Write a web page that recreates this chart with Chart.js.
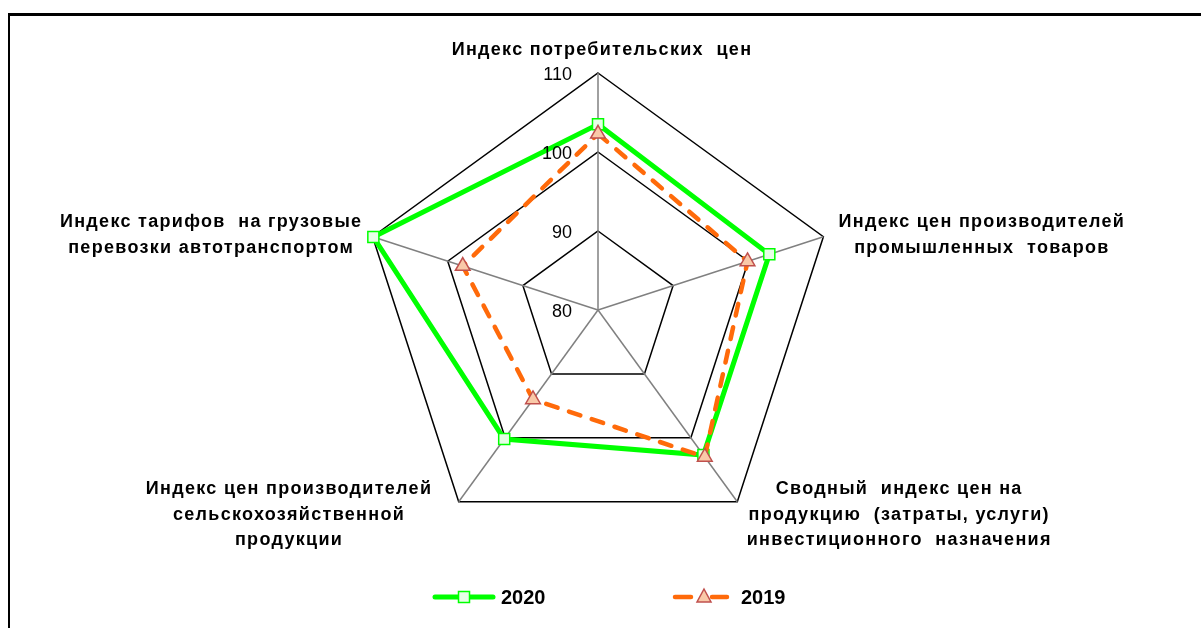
<!DOCTYPE html>
<html>
<head>
<meta charset="utf-8">
<script src="https://cdn.jsdelivr.net/npm/chart.js@4.4.1/dist/chart.umd.min.js"></script>
<style>
    html, body { margin: 0; padding: 0; background: #fff; }
    #wrap { position: relative; width: 1201px; height: 628px; overflow: hidden; }
    #frame { position: absolute; left: 8px; top: 13px; right: -5px; bottom: -5px; border-top: 3px solid #000; border-left: 2px solid #000; }
    canvas { position: absolute; left: 0; top: 0; }
</style>
</head>
<body>
<div id="wrap">
    <div id="frame"></div>
    <canvas id="radar" width="1201" height="628"></canvas>
</div>
<script>
const categories = [
    ["Индекс потребительских  цен"],
    ["Индекс цен производителей", "промышленных  товаров"],
    ["Сводный  индекс цен на", "продукцию  (затраты, услуги)", "инвестиционного  назначения"],
    ["Индекс цен производителей", "сельскохозяйственной", "продукции"],
    ["Индекс тарифов  на грузовые", "перевозки автотранспортом"]
];
const values2020 = [103.5, 102.8, 102.7, 100.2, 109.9];
const values2019 = [102.3, 99.9, 103.0, 94.0, 98.0];
const tickValues = [80, 90, 100, 110];
const seriesNames = ["2020", "2019"];

const FONT = '"Liberation Sans", Arial, sans-serif';
const GREEN = '#00FF00', ORANGE = '#FF6A0A';

// labels, ticks and legend drawn by hand (Excel-like placement)
const extras = {
    id: 'extras',
    afterDraw(chart) {
        const ctx = chart.ctx, r = chart.scales.r;
        ctx.save();
        ctx.fillStyle = '#000';

        // tick labels left of the top axis
        ctx.font = '18px ' + FONT;
        ctx.textAlign = 'right'; ctx.textBaseline = 'middle';
        tickValues.forEach(v => {
            const d = r.getDistanceFromCenterForValue(v);
            ctx.fillText(String(v), r.xCenter - 26, r.yCenter - d + 2);
        });

        // point labels, lines centred inside their block
        ctx.font = 'bold 18px ' + FONT;
        ctx.letterSpacing = '1.3px';
        ctx.textAlign = 'center';
        const lh = 25.5;
        const nudge = [4, 0, 0, -17, 5];
        categories.forEach((lines, i) => {
            const p = r.getPointPosition(i, r.drawingArea + 16);
            const c = Math.cos(p.angle), s = Math.sin(p.angle);
            const w = Math.max(...lines.map(l => ctx.measureText(l).width));
            let cx = p.x;
            if (Math.abs(c) > 0.1) cx = c > 0 ? p.x + w / 2 : p.x - w / 2;
            cx += nudge[i];
            let y0;
            if (s < -0.9) y0 = p.y - 7 - (lines.length - 1) * lh;
            else if (s > 0.5) y0 = p.y - (lines.length - 1) * lh / 2;
            else y0 = p.y + 3 - (lines.length - 1) * lh / 2;
            lines.forEach((l, k) => ctx.fillText(l, cx, y0 + k * lh));
        });
        ctx.letterSpacing = '0px';

        // legend
        const ly = 597;
        ctx.lineCap = 'round';
        ctx.strokeStyle = GREEN; ctx.lineWidth = 5;
        ctx.beginPath(); ctx.moveTo(435, ly); ctx.lineTo(493, ly); ctx.stroke();
        ctx.fillStyle = '#E6FFE6'; ctx.strokeStyle = GREEN; ctx.lineWidth = 1.5;
        ctx.fillRect(458.5, ly - 5.5, 11, 11); ctx.strokeRect(458.5, ly - 5.5, 11, 11);

        ctx.strokeStyle = ORANGE; ctx.lineWidth = 4.5;
        ctx.beginPath(); ctx.moveTo(675, ly); ctx.lineTo(691, ly); ctx.moveTo(712, ly); ctx.lineTo(727, ly); ctx.stroke();
        ctx.fillStyle = '#F9C9A8'; ctx.strokeStyle = '#C0504D'; ctx.lineWidth = 1.5;
        ctx.beginPath();
        ctx.moveTo(704, ly - 8); ctx.lineTo(711, ly + 5); ctx.lineTo(697, ly + 5); ctx.closePath();
        ctx.fill(); ctx.stroke();

        ctx.fillStyle = '#000';
        ctx.font = 'bold 20px ' + FONT;
        ctx.textAlign = 'left'; ctx.textBaseline = 'middle';
        ctx.fillText(seriesNames[0], 501, ly + 1);
        ctx.fillText(seriesNames[1], 741, ly + 1);
        ctx.restore();
    }
};

new Chart(document.getElementById('radar'), {
    type: 'radar',
    data: {
        labels: categories,
        datasets: [
            {
                label: seriesNames[0], data: values2020, order: 1,
                borderColor: GREEN, borderWidth: 5, fill: false, tension: 0,
                pointStyle: 'rect', pointRadius: 7.8, pointBorderWidth: 1.5,
                pointBackgroundColor: '#E6FFE6', pointBorderColor: GREEN
            },
            {
                label: seriesNames[1], data: values2019, order: 0,
                borderColor: ORANGE, borderWidth: 4.5, borderDash: [12, 12], borderCapStyle: 'round',
                fill: false, tension: 0,
                pointStyle: 'triangle', pointRadius: 8.5, pointBorderWidth: 1.5,
                pointBackgroundColor: '#F9C9A8', pointBorderColor: '#C0504D'
            }
        ]
    },
    options: {
        responsive: false,
        animation: false,
        layout: { padding: { left: 361, right: 366, top: 73, bottom: 81 } },
        plugins: { legend: { display: false }, tooltip: { enabled: false } },
        scales: {
            r: {
                min: 80, max: 110,
                ticks: { display: false, stepSize: 10 },
                pointLabels: { display: false },
                grid: { color: '#000', lineWidth: 1.5 },
                angleLines: { color: '#808080', lineWidth: 1.5 }
            }
        }
    },
    plugins: [extras]
});
</script>
</body>
</html>
